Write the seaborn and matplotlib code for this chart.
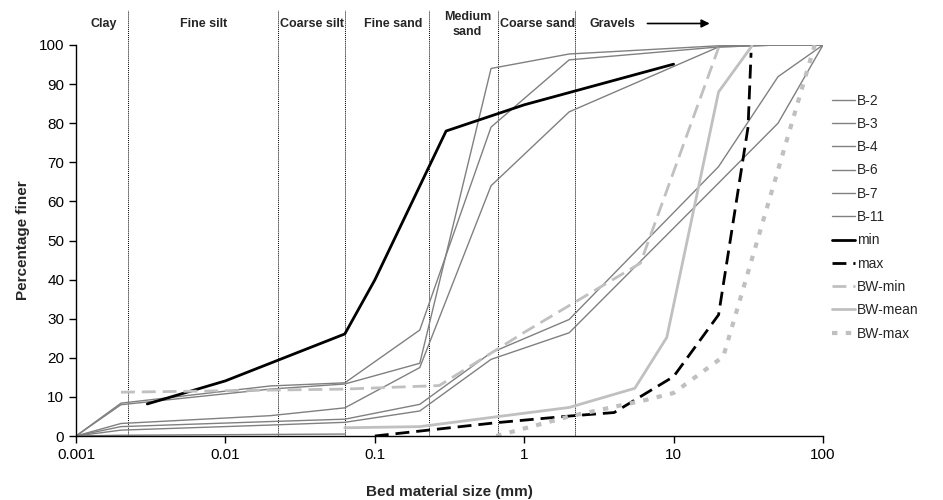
import numpy as np
import pandas as pd
import matplotlib
matplotlib.use('Agg')
import matplotlib.pyplot as plt
from matplotlib.ticker import FuncFormatter, FixedLocator, NullLocator
import seaborn as sns

# ── data ─────────────────────────────────────────────────────────────────
sieve = [0.001, 0.002, 0.02, 0.063, 0.2, 0.6, 2, 20, 50, 100]
b_series = {
    'B-2':  [0, 8.4, 12.8, 13.6, 27.1, 79.0, 96.2, 99.5, 100, 100],
    'B-3':  [0, 8.0, 12.0, 13.3, 18.6, 94.0, 97.7, 99.8, 100, 100],
    'B-4':  [0, 3.2, 5.2, 7.2, 17.5, 64.0, 82.9, 99.5, 100, 100],
    'B-6':  [0, 2.4, 3.7, 4.3, 8.1, 21.3, 29.8, 68.9, 91.9, 100],
    'B-7':  [0, 1.5, 2.8, 3.5, 6.4, 19.6, 26.4, 64.7, 80.0, 100],
    'B-11': [0, 0.2, 0.4, 0.5, np.nan, np.nan, np.nan, np.nan, np.nan, np.nan],
}

min_size = [0.003, 0.01, 0.063, 0.1, 0.3, 1, 10]
min_pct = [8.2, 14.1, 26.1, 39.9, 78.0, 84.7, 95.1]

max_size = [0.1, 0.65, 2, 4, 10, 20, 31.5, 33]
max_pct = [0.0, 3.4, 5.1, 6.0, 15.2, 31.0, 79.0, 98.0]

bwmin_size = [0.002, 0.063, 0.27, 1, 6, 20]
bwmin_pct = [11.2, 12.0, 12.9, 26.5, 44.2, 99.3]

bwmean_size = [0.063, 0.2, 2, 5.5, 9, 20, 33.5]
bwmean_pct = [2.1, 2.4, 7.3, 12.2, 25.2, 88.0, 99.8]

bwmax_size = [0.65, 2, 6.5, 10, 21.5, 88]
bwmax_pct = [0.0, 5.0, 9.2, 11.0, 20.3, 100.0]

class_bounds = [0.00224, 0.0226, 0.0627, 0.231, 0.667, 2.2]
class_names = ['Clay', 'Fine silt', 'Coarse silt', 'Fine sand', 'Medium\nsand', 'Coarse sand', 'Gravels']
class_x = [0.00154, 0.0071, 0.0381, 0.1327, 0.416, 1.224, 3.9]

# ── plot ────────────────────────────────────────────────────────────────
sns.set_style('white')
plt.rcParams['font.family'] = ['Liberation Sans', 'DejaVu Sans']

fig = plt.figure(figsize=(9.43, 5.0), dpi=100)
ax = fig.add_axes([76 / 943, 64 / 500, 747 / 943, 391 / 500])

grey = '#808080'
light = '#c0c0c0'

for name, vals in b_series.items():
    sns.lineplot(x=sieve, y=vals, ax=ax, color=grey, lw=1, label=name,
                 sort=False, estimator=None)

sns.lineplot(x=min_size, y=min_pct, ax=ax, color='black', lw=2, label='min',
             sort=False, estimator=None)
sns.lineplot(x=max_size, y=max_pct, ax=ax, color='black', lw=2, label='max',
             linestyle=(0, (5, 2.5)), sort=False, estimator=None)
sns.lineplot(x=bwmin_size, y=bwmin_pct, ax=ax, color=light, lw=2, label='BW-min',
             linestyle=(0, (5, 2.5)), sort=False, estimator=None)
sns.lineplot(x=bwmean_size, y=bwmean_pct, ax=ax, color=light, lw=2, label='BW-mean',
             sort=False, estimator=None)
sns.lineplot(x=bwmax_size, y=bwmax_pct, ax=ax, color=light, lw=3, label='BW-max',
             linestyle=(0, (1.3, 2)), sort=False, estimator=None)

for b in class_bounds:
    ax.plot([b, b], [0, 109], color='black', lw=0.7, ls=(0, (1, 1)), clip_on=False, zorder=1)

for name, xc in zip(class_names, class_x):
    ax.text(xc, 105.3, name, ha='center', va='center', linespacing=1.35,
            fontsize=9, fontweight='bold')
ax.annotate('', xy=(18.2, 105.5), xytext=(6.4, 105.5),
            arrowprops=dict(arrowstyle='-|>', color='black', lw=1.2, mutation_scale=12),
            annotation_clip=False)

ax.set_xscale('log')
ax.set_xlim(0.001, 100)
ax.set_ylim(0, 100)
ax.xaxis.set_major_locator(FixedLocator([0.001, 0.01, 0.1, 1, 10, 100]))
ax.xaxis.set_minor_locator(NullLocator())
ax.xaxis.set_major_formatter(FuncFormatter(lambda v, p: f'{v:g}'))
ax.set_yticks(range(0, 101, 10))
ax.tick_params(axis='both', labelsize=11, length=5, width=1, direction='out',
               bottom=True, left=True, colors='black')
for s in ['top', 'right']:
    ax.spines[s].set_visible(False)
for s in ['left', 'bottom']:
    ax.spines[s].set_color('black')
    ax.spines[s].set_linewidth(1)

ax.set_xlabel('Bed material size (mm)', fontsize=11, fontweight='bold', labelpad=17)
ax.set_ylabel('Percentage finer', fontsize=11, fontweight='bold', labelpad=6)

ax.legend(loc='upper left', bbox_to_anchor=(826 / 943, 1 - 88 / 500),
          bbox_transform=fig.transFigure, frameon=False, fontsize=10,
          handlelength=1.7, handletextpad=0.1, labelspacing=0.67, borderaxespad=0)

plt.savefig('out.png', dpi=100)
plt.close()
